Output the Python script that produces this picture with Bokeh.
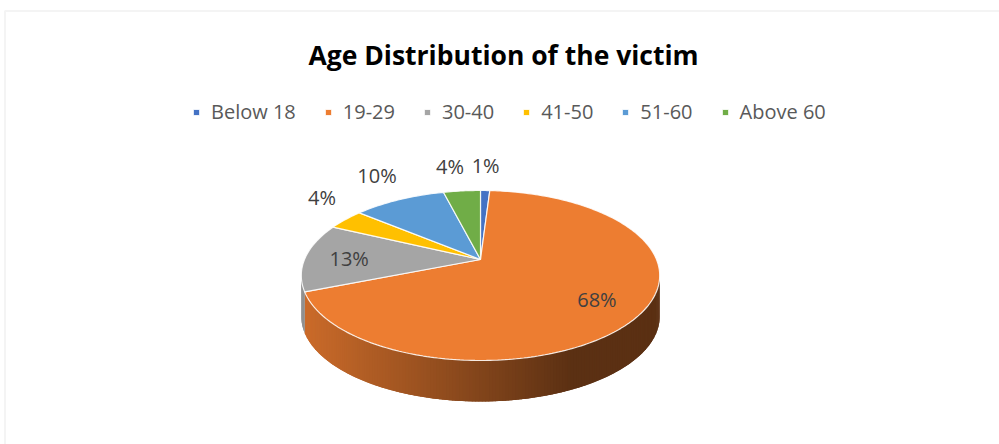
import numpy as np
from bokeh.plotting import figure
from bokeh.models import Range1d, Label, Legend, LegendItem, BoxAnnotation, ColumnDataSource
from bokeh.embed import file_html
from bokeh.resources import INLINE

# ---------------- data ----------------
categories = ["Below 18", "19-29", "30-40", "41-50", "51-60", "Above 60"]
percent = [1, 68, 13, 4, 10, 4]
colors = ["#4472C4", "#ED7D31", "#A5A5A5", "#FFC000", "#5B9BD5", "#70AD47"]
title_text = "Age Distribution of the victim"

# ---------------- layout (screen-like units, y grows downward) ----------------
W, H = 999, 444
CX, CY = 480.0, 259.0      # apex of the pie
SX, SY = 176.0, 82.0       # radii of the projected disc
PERSP = 0.188              # perspective strength
DEPTH = 41.0               # thickness of the 3-D disc
FONT = "Open Sans"
LABEL_FS = 20

p = figure(width=W, height=H, output_backend="svg", toolbar_location=None,
           x_range=Range1d(0, W), y_range=Range1d(H, 0), min_border=0)
p.axis.visible = False
p.grid.visible = False
p.outline_line_color = None
p.background_fill_color = "white"
p.border_fill_color = "white"

# chart-area border
p.add_layout(BoxAnnotation(left=4.5, right=W + 20, top=10.5, bottom=H + 20,
                           fill_alpha=0, line_color="#d9d9d9", line_width=2))


def project(r, theta):
    """theta: radians clockwise from 12 o'clock, r: relative radius."""
    d = 1.0 + PERSP * r * np.cos(theta)
    return CX + SX * r * np.sin(theta) / d, CY - SY * r * np.cos(theta) / d


def shade(hex_color, f):
    h = hex_color.lstrip("#")
    rgb = [int(h[i:i + 2], 16) for i in (0, 2, 4)]
    return "#%02x%02x%02x" % tuple(int(round(min(255, c * f))) for c in rgb)


vals = np.array(percent, dtype=float)
frac = vals / vals.sum()
ends = np.cumsum(frac) * 2 * np.pi
starts = ends - frac * 2 * np.pi

# ---------------- side of the disc (front, visible part) ----------------
t_right = np.arccos(-PERSP)
t_left = 2 * np.pi - np.arccos(-PERSP)
edges = np.linspace(t_right, t_left, 181)
step = edges[1] - edges[0]
x_left = project(1, t_left)[0]
x_right = project(1, t_right)[0]
side_xs, side_ys, side_col = [], [], []
for a0, a1 in zip(edges[:-1], edges[1:]):
    mid = 0.5 * (a0 + a1)
    k = int(np.searchsorted(ends, mid))
    k = min(k, len(categories) - 1)
    b0 = max(starts[k], a0 - 0.6 * step)
    b1 = min(ends[k], a1 + 0.6 * step)
    x0, y0 = project(1, b0)
    x1, y1 = project(1, b1)
    xm = 0.5 * (x0 + x1)
    t = np.clip((xm - x_left) / (0.75 * (x_right - x_left)), 0, 1)
    f = 0.86 - t * (0.86 - 0.385)
    side_xs.append([x0, x1, x1, x0])
    side_ys.append([y0, y1, y1 + DEPTH, y0 + DEPTH])
    side_col.append(shade(colors[k], f))
p.patches(xs="xs", ys="ys", source=ColumnDataSource(dict(xs=side_xs, ys=side_ys, c=side_col)),
          fill_color="c", line_color=None)

# ---------------- top faces ----------------
top_xs, top_ys = [], []
for s, e in zip(starts, ends):
    n = max(3, int(np.degrees(e - s)) + 2)
    th = np.linspace(s, e, n)
    px, py = project(1, th)
    top_xs.append([CX] + list(px))
    top_ys.append([CY] + list(py))
top_src = ColumnDataSource(dict(xs=top_xs, ys=top_ys, c=colors, cat=categories))
top = p.patches(xs="xs", ys="ys", source=top_src, fill_color="c",
                line_color="white", line_width=1.2, line_alpha=0.85)

# ---------------- data labels ----------------
for i, (s, e) in enumerate(zip(starts, ends)):
    mid = 0.5 * (s + e)
    txt = "%d%%" % round(percent[i] / sum(percent) * 100)
    if percent[i] > 10:
        lx, ly = project(0.75, mid)
    else:
        ex, ey = project(1, mid)
        lx = CX + 1.1 * (ex - CX)
        ly = CY + 1.1 * (ey - CY) - 19
        est_w = LABEL_FS * (0.57 * (len(txt) - 1) + 0.86)
        if np.sin(mid) < -0.1:
            lx -= 0.7 * est_w / 2
    p.add_layout(Label(x=lx, y=ly + 1, text=txt, text_align="center",
                       text_baseline="alphabetic", text_font=FONT,
                       text_font_size="%dpx" % LABEL_FS, text_color="#404040"))

# ---------------- title ----------------
p.add_layout(Label(x=503, y=54, text=title_text, text_align="center",
                   text_baseline="alphabetic", text_font=FONT, text_font_style="bold",
                   text_font_size="26.5px", text_color="#000000"))

# ---------------- legend ----------------
items = [LegendItem(label=c, renderers=[top], index=i) for i, c in enumerate(categories)]
legend = Legend(items=items, orientation="horizontal", location=(192, 319),
                glyph_width=8, glyph_height=8, label_standoff=11, spacing=28,
                padding=0, margin=0, border_line_color=None, background_fill_alpha=0,
                label_text_font=FONT, label_text_font_size="20px", label_text_color="#595959",
                label_height=26)
p.add_layout(legend)

open("out.html", "w").write(file_html(p, INLINE))
